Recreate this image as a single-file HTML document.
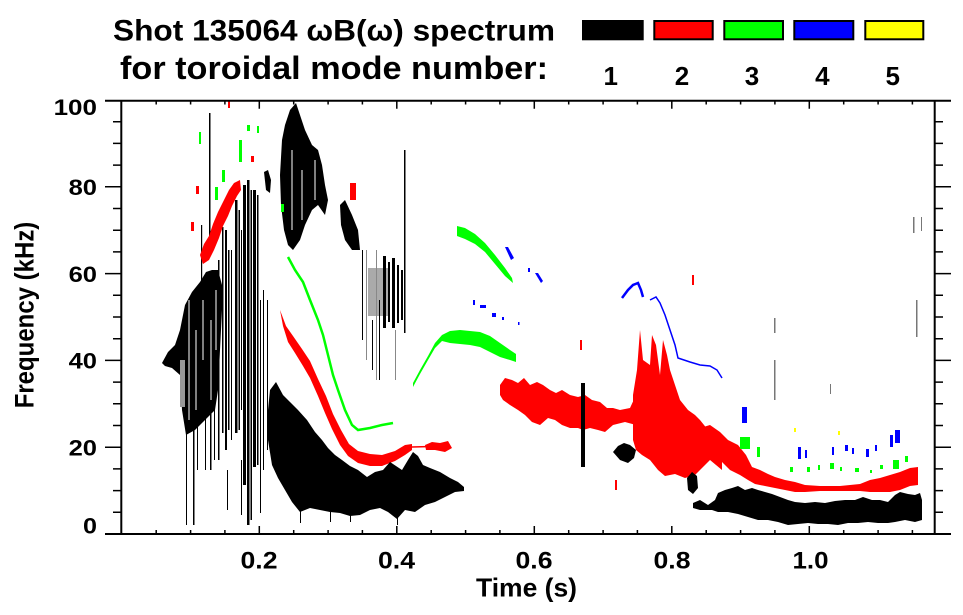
<!DOCTYPE html>
<html><head><meta charset="utf-8"><style>
html,body{margin:0;padding:0;background:#fff;}
svg{display:block;}
text{font-family:"Liberation Sans",Arial,sans-serif;font-weight:bold;fill:#000;}
</style></head><body>
<svg width="963" height="615" viewBox="0 0 963 615" xmlns="http://www.w3.org/2000/svg">
<rect width="963" height="615" fill="#fff"/>

<!-- Title & legend -->
<text x="113" y="40.5" font-size="30" textLength="442" lengthAdjust="spacingAndGlyphs">Shot 135064 ωB(ω) spectrum</text>
<text x="120" y="79" font-size="32" textLength="428" lengthAdjust="spacingAndGlyphs">for toroidal mode number:</text>
<rect x="582" y="20" width="61.7" height="20.3" fill="#000"/>
<rect x="654.3" y="21" width="58.4" height="18.3" fill="#f00" stroke="#000" stroke-width="2"/>
<rect x="724.3" y="21" width="58.7" height="18.3" fill="#0f0" stroke="#000" stroke-width="2"/>
<rect x="794.3" y="21" width="59" height="18.3" fill="#00f" stroke="#000" stroke-width="2"/>
<rect x="865.3" y="21" width="58" height="18.3" fill="#ff0" stroke="#000" stroke-width="2"/>
<g font-size="26" text-anchor="middle">
<text x="610.7" y="85">1</text><text x="682" y="85">2</text><text x="752" y="85">3</text><text x="822.3" y="85">4</text><text x="892.7" y="85">5</text>
</g>

<!-- ============ DATA ============ -->
<!-- early black blob -->
<g fill="#000">
<polygon points="162,363 168,352 175,345 180,330 185,305 192,292 200,282 206,272 212,270 218,270 222,285 222,310 220,350 218,390 215,410 205,420 195,430 186,435 182,410 180,375 172,368 165,366"/>
</g>
<rect x="180" y="360" width="5" height="47" fill="#999"/>
<g stroke="#fff" stroke-width="1">
<line x1="189" y1="300" x2="189" y2="420"/><line x1="196" y1="330" x2="196" y2="410"/><line x1="203" y1="300" x2="203" y2="360"/><line x1="211" y1="320" x2="211" y2="400"/><line x1="216" y1="290" x2="216" y2="350"/>
</g>
<!-- vertical streak forest -->
<g fill="#000">
<rect x="186" y="380" width="1" height="145"/>
<rect x="193" y="430" width="1.5" height="95"/>
<rect x="197" y="420" width="1" height="50"/>
<rect x="201" y="225" width="1.2" height="60"/>
<rect x="205" y="410" width="1" height="60"/>
<rect x="209" y="113" width="1.5" height="140"/>
<rect x="210" y="400" width="1.5" height="70"/>
<rect x="214" y="400" width="1" height="60"/>
<rect x="218" y="260" width="1.5" height="200"/>
<rect x="222" y="227" width="1.5" height="206"/>
<rect x="225" y="230" width="2" height="220"/>
<rect x="228" y="250" width="1.5" height="180"/>
<rect x="231" y="250" width="1" height="190"/>
<rect x="235" y="200" width="2.5" height="233"/>
<rect x="238.5" y="210" width="1.5" height="220"/>
<rect x="241" y="230" width="1" height="180"/>
<rect x="243" y="185" width="3" height="300"/>
<rect x="247" y="180" width="2.5" height="345"/>
<rect x="250.5" y="190" width="1.5" height="330"/>
<rect x="253" y="190" width="3" height="277"/>
<rect x="257" y="195" width="1.5" height="270"/>
<rect x="260" y="300" width="1" height="213"/>
<rect x="263" y="290" width="1" height="180"/>
<rect x="267" y="300" width="1" height="150"/>
<rect x="241" y="460" width="1" height="55"/>
<rect x="227" y="470" width="1" height="40"/>
<polygon points="264,172 268,170 271,180 270,193 266,190"/>
</g>

<!-- upper black cluster -->
<polygon fill="#000" points="282,140 285,125 290,110 296,103 300,115 305,130 312,145 318,150 322,165 325,185 328,200 325,215 318,205 312,210 305,225 300,240 293,250 288,245 284,230 281,205 280,175"/>
<g stroke="#fff" stroke-width="1"><line x1="292" y1="150" x2="292" y2="230"/><line x1="302" y1="170" x2="302" y2="220"/><line x1="315" y1="160" x2="315" y2="200"/></g>
<polygon fill="#000" points="340,205 345,200 352,215 358,230 360,250 352,250 345,240 341,225"/>
<!-- gray/black cluster -->
<rect x="368" y="268" width="22" height="48" fill="#aaa"/>
<g fill="#000">
<rect x="383" y="256" width="3" height="72"/><rect x="388" y="262" width="2" height="60"/><rect x="392" y="258" width="3" height="70"/><rect x="397" y="265" width="2" height="58"/><rect x="401" y="270" width="2" height="50"/>
<rect x="404" y="150" width="1.5" height="183"/>
<rect x="362" y="250" width="1" height="90"/><rect x="372" y="320" width="1" height="50"/><rect x="379" y="300" width="1" height="80"/>
</g>
<g fill="#888"><rect x="366" y="250" width="1" height="110"/><rect x="376" y="250" width="1" height="130"/><rect x="395" y="330" width="1" height="50"/></g>

<!-- early red -->
<g fill="#f00">
<polygon points="200,255 204,244 209,236 213,224 218,212 223,202 229,190 234,183 240,180 241,190 237,196 232,206 228,216 223,226 219,238 214,250 209,260 203,264"/>
<rect x="191" y="222" width="3" height="9"/><rect x="196" y="186" width="3" height="8"/><rect x="251" y="156" width="3" height="6"/><rect x="192" y="222" width="2" height="8"/>
<rect x="350" y="183" width="6" height="17"/><rect x="228" y="100" width="2" height="8"/>
</g>
<!-- early green -->
<g fill="#0f0">
<rect x="199" y="132" width="2" height="12"/><rect x="215" y="187" width="3" height="13"/><rect x="222" y="170" width="3" height="12"/><rect x="239" y="140" width="3" height="22"/><rect x="247" y="125" width="3" height="6"/><rect x="257" y="126" width="2" height="7"/><rect x="281" y="204" width="3" height="8"/>
</g>

<!-- green n=3 descending thin -->
<polyline fill="none" stroke="#0f0" stroke-width="2.5" points="288,257 295,270 303,282 310,300 318,320 323,335 328,355 333,375 338,390 345,410 352,425 358,430 370,428 382,425 393,423"/>

<!-- red n=2 descending band -->
<polygon fill="#f00" points="280,310 286,326 293,336 302,349 310,361 318,379 326,396 333,414 341,430 349,444 358,451 370,454 382,455 395,451 405,445 412,444 412,450 405,455 395,461 382,466 370,466 358,463 348,456 340,445 332,429 325,413 318,396 310,378 303,366 295,353 288,342 283,326"/>
<polyline fill="none" stroke="#f00" stroke-width="1.5" points="412,447 450,446"/>
<polygon fill="#f00" points="425,445 432,442 440,443 448,441 452,448 445,452 435,450 426,450"/>

<!-- black n=1 lower big blob -->
<polygon fill="#000" points="270,390 276,382 283,395 290,402 298,410 307,420 315,432 322,440 328,448 335,455 342,460 350,466 358,470 367,477 375,472 383,470 390,462 396,466 402,470 408,460 413,452 418,456 423,465 430,468 440,472 450,478 458,482 464,487 464,491 455,492 445,497 435,502 425,505 415,512 405,510 397,519 388,512 380,508 370,510 360,515 350,516 340,513 330,512 320,510 310,508 300,512 292,502 285,490 278,478 272,465 268,440 268,410"/>
<g fill="#000"><rect x="300" y="505" width="1" height="18"/><rect x="330" y="508" width="1" height="14"/><rect x="350" y="512" width="1" height="10"/><rect x="397" y="515" width="1" height="10"/></g>

<!-- green hump -->
<polygon fill="#0f0" points="413,383 420,370 428,356 435,343 442,335 450,331 460,330 470,331 480,332 490,336 500,343 510,350 516,354 516,362 510,360 500,357 490,352 480,347 470,345 460,344 450,343 442,341 435,348 428,360 420,374 413,387"/>
<!-- green upper band -->
<polygon fill="#0f0" points="457,226 465,228 475,234 485,243 495,255 505,268 512,278 513,283 505,276 495,264 485,252 475,244 465,239 457,236"/>

<!-- blue -->
<g fill="#00f">
<polygon points="505,247 508,247 514,258 511,260"/>
<rect x="528" y="268" width="2" height="4"/><polygon points="535,273 538,273 543,281 541,283"/>
<rect x="473" y="300" width="2" height="5"/><rect x="480" y="305" width="6" height="3"/><rect x="492" y="313" width="4" height="4"/><rect x="502" y="317" width="2" height="3"/><rect x="518" y="322" width="1.5" height="3"/>
<polyline fill="none" stroke="#00f" stroke-width="2.5" points="622,298 628,290 633,285 638,283 641,290 643,297"/>
<polyline fill="none" stroke="#00f" stroke-width="1.5" points="650,300 656,297 660,303 665,315 670,330 675,345 678,358 690,362 700,365 710,366 717,370 722,378"/>
<rect x="742" y="407" width="5" height="16"/>
<rect x="798" y="447" width="3" height="12"/><rect x="805" y="450" width="2" height="8"/>
<rect x="832" y="447" width="2" height="8"/><rect x="845" y="445" width="3" height="6"/><rect x="852" y="448" width="2" height="6"/><rect x="866" y="449" width="3" height="8"/><rect x="875" y="445" width="2" height="6"/>
<rect x="890" y="435" width="3" height="12"/><rect x="895" y="430" width="5" height="13"/>
</g>

<!-- red middle band -->
<g fill="#f00">
<polygon points="500,385 505,378 512,380 518,383 524,378 530,385 537,382 543,385 550,390 556,393 562,390 570,395 578,397 585,395 592,400 600,402 607,408 613,408 620,410 630,408 636,395 636,425 625,422 613,425 605,432 598,430 590,428 583,430 578,428 570,428 562,425 555,420 548,418 540,425 532,422 525,415 518,410 510,405 503,400 500,395"/>
<polygon points="633,395 637,370 640,330 643,360 650,365 652,335 656,345 660,375 663,340 667,355 670,370 675,385 680,400 688,410 695,415 700,420 708,430 716,432 722,440 722,470 710,460 700,470 695,475 685,478 675,474 665,476 658,470 650,460 642,455 636,450 633,440"/>
<polygon points="700,428 710,425 720,432 728,440 738,445 746,455 752,467 760,470 768,474 775,477 785,480 795,482 805,485 820,486 840,486 860,484 870,480 880,478 890,475 900,472 910,468 918,467 918,485 910,486 900,490 890,492 880,492 870,492 860,491 840,491 820,491 805,492 795,492 785,490 775,488 765,486 755,484 748,480 740,475 730,470 722,462 715,455 705,448 700,445"/>
<rect x="580" y="340" width="2" height="10"/><rect x="692" y="275" width="2" height="10"/><rect x="615" y="480" width="2" height="10"/>
</g>

<!-- black middle -->
<g fill="#000">
<rect x="581" y="383" width="4" height="84"/>
<polygon points="613,452 618,446 624,443 630,445 636,450 634,458 628,463 620,460"/>
<polygon points="687,478 692,472 697,476 698,488 693,494 688,490"/>
</g>
<!-- black late band -->
<polygon fill="#000" points="693,503 700,500 708,505 715,500 718,493 725,490 732,488 738,486 745,490 752,488 758,490 765,492 772,494 780,497 788,500 795,502 805,503 815,502 825,503 835,501 845,500 855,500 863,497 872,500 880,500 888,502 895,495 900,492 908,494 915,495 920,493 922,500 922,520 915,522 905,520 895,522 888,523 878,523 868,522 858,523 848,523 838,525 828,524 818,524 808,523 798,524 788,525 778,522 768,520 758,520 748,517 738,514 728,512 718,512 712,510 700,510 693,508"/>

<!-- green late -->
<g fill="#0f0">
<rect x="740" y="437" width="10" height="12"/><rect x="757" y="447" width="3" height="10"/>
<rect x="790" y="467" width="3" height="5"/><rect x="830" y="463" width="4" height="6"/><rect x="840" y="467" width="2" height="4"/><rect x="855" y="468" width="4" height="4"/><rect x="870" y="470" width="2" height="3"/><rect x="880" y="465" width="3" height="4"/><rect x="893" y="460" width="6" height="9"/><rect x="905" y="456" width="3" height="6"/>
<rect x="807" y="467" width="3" height="5"/><rect x="818" y="465" width="2" height="5"/>
</g>
<g fill="#ff0"><rect x="794" y="428" width="2" height="4"/><rect x="838" y="431" width="2" height="4"/></g>
<!-- specks -->
<g fill="#777">
<rect x="913" y="217" width="1.5" height="16"/><rect x="916" y="300" width="1.5" height="37"/><rect x="774" y="318" width="1.5" height="15"/><rect x="774" y="360" width="1.5" height="40"/><rect x="921" y="217" width="1" height="14"/><rect x="830" y="384" width="1" height="10"/>
</g>

<!-- ============ AXES ============ -->
<g stroke="#000" fill="none">
<line x1="121.3" y1="100.7" x2="121.3" y2="534" stroke-width="2"/>
<line x1="934.7" y1="100.7" x2="934.7" y2="534" stroke-width="2"/>
<line x1="105" y1="100.7" x2="951" y2="100.7" stroke-width="2"/>
<line x1="105" y1="534" x2="951" y2="534" stroke-width="2"/>
<g stroke-width="1.5">
<path d="M113 512.3H121.3M113 490.6H121.3M113 468.9H121.3M105 447.2H121.3M113 425.5H121.3M113 403.8H121.3M113 382.1H121.3M105 360.4H121.3M113 338.7H121.3M113 317H121.3M113 295.3H121.3M105 273.6H121.3M113 251.9H121.3M113 230.2H121.3M113 208.5H121.3M105 186.8H121.3M113 165.1H121.3M113 143.4H121.3M113 121.7H121.3"/>
<path d="M934.7 512.3H943M934.7 490.6H943M934.7 468.9H943M934.7 447.2H951M934.7 425.5H943M934.7 403.8H943M934.7 382.1H943M934.7 360.4H951M934.7 338.7H943M934.7 317H943M934.7 295.3H943M934.7 273.6H951M934.7 251.9H943M934.7 230.2H943M934.7 208.5H943M934.7 186.8H951M934.7 165.1H943M934.7 143.4H943M934.7 121.7H943"/>
<path d="M156.2 534V530M190.6 534V530M224.9 534V530M259.3 534V526M293.7 534V530M328.1 534V530M362.4 534V530M396.8 534V526M431.2 534V530M465.6 534V530M499.9 534V530M534.3 534V526M568.7 534V530M603.1 534V530M637.4 534V530M671.8 534V526M706.2 534V530M740.6 534V530M774.9 534V530M809.3 534V526M843.7 534V530M878.1 534V530M912.4 534V530"/>
<path d="M156.2 100.7V104.5M190.6 100.7V104.5M224.9 100.7V104.5M259.3 100.7V108.7M293.7 100.7V104.5M328.1 100.7V104.5M362.4 100.7V104.5M396.8 100.7V108.7M431.2 100.7V104.5M465.6 100.7V104.5M499.9 100.7V104.5M534.3 100.7V108.7M568.7 100.7V104.5M603.1 100.7V104.5M637.4 100.7V104.5M671.8 100.7V108.7M706.2 100.7V104.5M740.6 100.7V104.5M774.9 100.7V104.5M809.3 100.7V108.7M843.7 100.7V104.5M878.1 100.7V104.5M912.4 100.7V104.5"/>
</g>
</g>

<!-- tick labels -->
<g font-size="22" text-anchor="end">
<text x="97" y="115" textLength="43.4" lengthAdjust="spacingAndGlyphs">100</text>
<text x="97" y="195" textLength="28.4" lengthAdjust="spacingAndGlyphs">80</text>
<text x="97" y="281.8" textLength="28.4" lengthAdjust="spacingAndGlyphs">60</text>
<text x="97" y="368.6" textLength="28.4" lengthAdjust="spacingAndGlyphs">40</text>
<text x="97" y="455.4" textLength="28.4" lengthAdjust="spacingAndGlyphs">20</text>
<text x="97" y="533.3" textLength="14" lengthAdjust="spacingAndGlyphs">0</text>
</g>
<g font-size="24.5" text-anchor="middle">
<text x="259" y="568.3" textLength="37" lengthAdjust="spacingAndGlyphs">0.2</text>
<text x="396.5" y="568.3" textLength="37" lengthAdjust="spacingAndGlyphs">0.4</text>
<text x="534" y="568.3" textLength="37" lengthAdjust="spacingAndGlyphs">0.6</text>
<text x="672" y="568.3" textLength="37" lengthAdjust="spacingAndGlyphs">0.8</text>
<text x="810.5" y="568.3" textLength="36" lengthAdjust="spacingAndGlyphs">1.0</text>
</g>
<text x="476" y="596.7" font-size="26" textLength="101" lengthAdjust="spacingAndGlyphs">Time (s)</text>
<text transform="translate(33.3,408.3) rotate(-90)" x="0" y="0" font-size="27" textLength="186.6" lengthAdjust="spacingAndGlyphs">Frequency (kHz)</text>
</svg>
</body></html>
